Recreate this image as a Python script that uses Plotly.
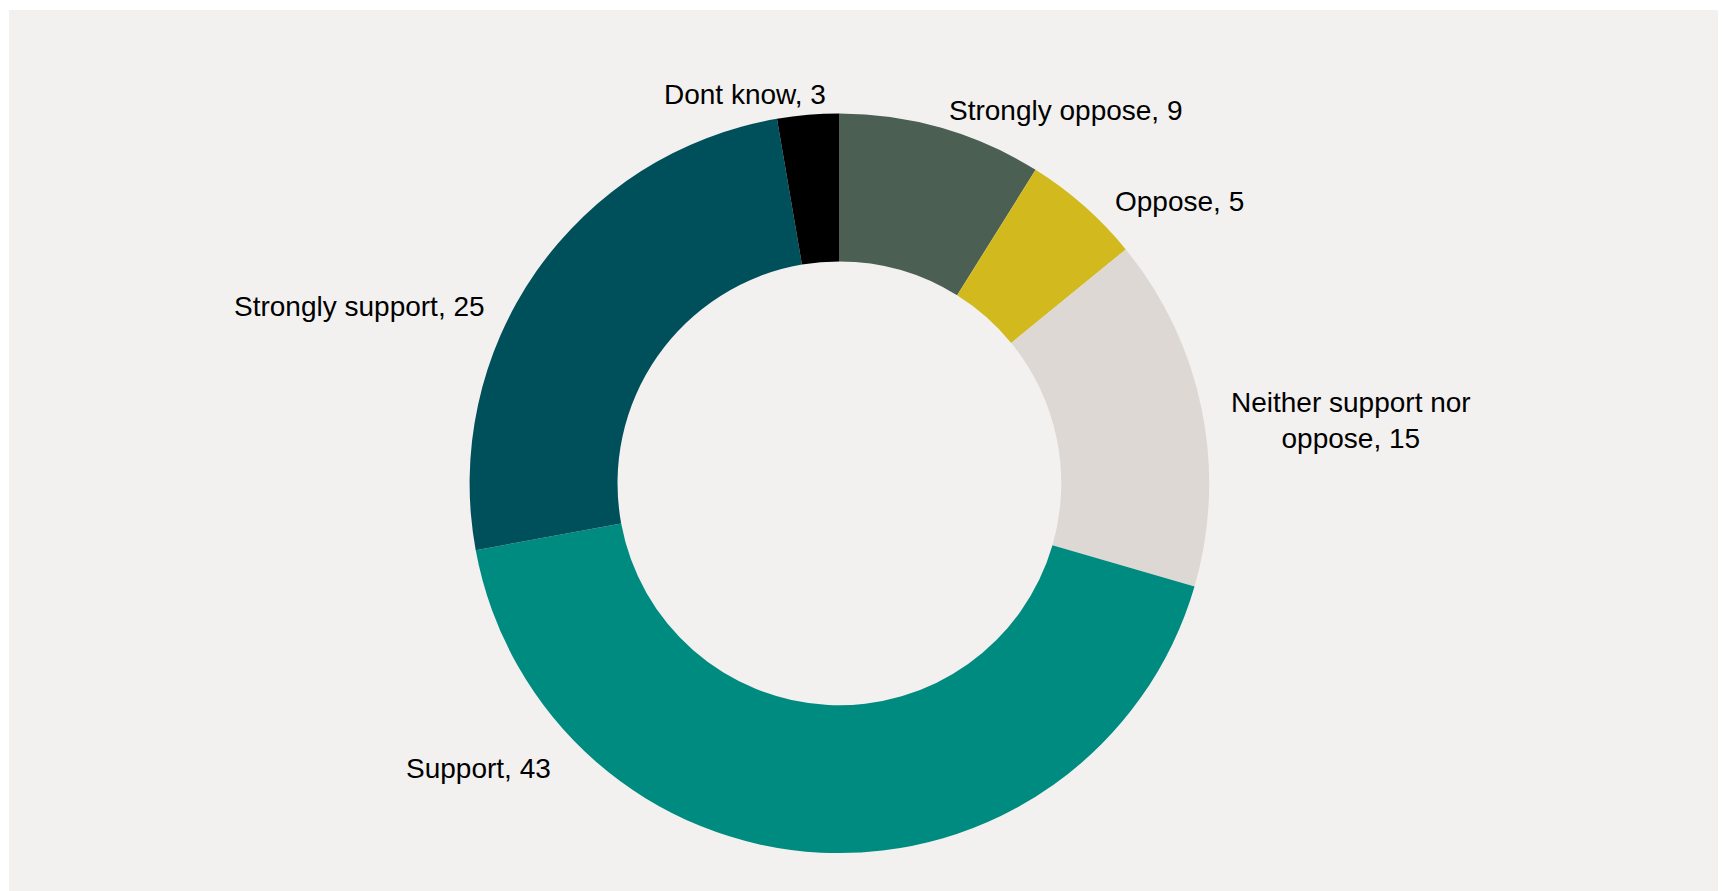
import plotly.graph_objects as go

# ---- data ----
categories = ["Strongly oppose", "Oppose", "Neither support nor oppose",
              "Support", "Strongly support", "Dont know"]
# shares; labels show them rounded
values = [8.9, 5.2, 15.4, 42.6, 25.2, 2.7]

# ---- styles ----
colors = ["#4b5f52", "#d1b91e", "#ddd8d3", "#008b80", "#00505c", "#000000"]
W, H = 1726, 891
BG = "#f2f1ef"
FONT = "Liberation Sans, Arial, sans-serif"
FS = 28
OFF = 8  # page body margin offset

# label placement (pixel centers in page) and line wrapping
label_pos = [(1066, 110), (1179, 201), (1351, 420), (479, 768), (359, 306), (745, 94)]
wrap = {"Neither support nor oppose": "Neither support nor<br>oppose"}

# pie geometry (page pixels)
cx, cy, r = 839.4 - OFF, 483.3 - OFF, 369.8

fig = go.Figure(go.Pie(
    labels=categories,
    values=values,
    sort=False,
    direction="clockwise",
    rotation=0,
    hole=0.6,
    marker=dict(colors=colors, line=dict(width=0)),
    textinfo="none",
    hovertemplate="%{label}, %{value:.0f}<extra></extra>",
    showlegend=False,
    domain=dict(x=[(cx - r) / W, (cx + r) / W],
                y=[1 - (cy + r) / H, 1 - (cy - r) / H]),
))

annotations = []
for cat, val, (px, py) in zip(categories, values, label_pos):
    annotations.append(dict(
        x=(px - OFF) / W, y=1 - (py - OFF) / H, xref="paper", yref="paper",
        text=f"{wrap.get(cat, cat)}, {val:.0f}",
        showarrow=False, xanchor="center", yanchor="middle", align="center",
        font=dict(family=FONT, size=FS, color="#000000"),
    ))

fig.update_layout(
    width=W, height=H,
    margin=dict(l=0, r=0, t=0, b=0),
    paper_bgcolor="#ffffff",
    plot_bgcolor="#ffffff",
    annotations=annotations,
    shapes=[dict(type="rect", xref="paper", yref="paper",
                 x0=1 / W, x1=1, y0=0, y1=1 - 2 / H,
                 fillcolor=BG, line=dict(width=0), layer="below")],
)

fig.write_html("out.html", config={"displayModeBar": False})
